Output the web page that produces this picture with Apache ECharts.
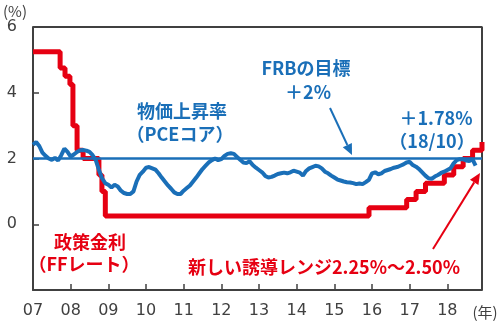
<!DOCTYPE html>
<html><head><meta charset="utf-8">
<script src="https://cdn.jsdelivr.net/npm/echarts@6/dist/echarts.min.js"></script>
<style>html,body{margin:0;padding:0;background:#fff}#c{width:500px;height:326px}</style>
</head><body><div id="c"></div>
<script>
// Core PCE inflation, YoY %, monthly Jan 2007 .. Oct 2018
const pce2007 = [2.42, 2.5, 2.38, 2.18, 2.08, 2.0, 1.96, 2.02, 1.94, 2.1, 2.3, 2.2];
const pce2008 = [2.06, 2.12, 2.2, 2.25, 2.26, 2.24, 2.2, 2.1, 1.95, 1.65, 1.4, 1.25];
const pce2009 = [1.2, 1.12, 1.2, 1.15, 1.02, 0.95, 0.92, 0.92, 1.0, 1.3, 1.5, 1.6];
const pce2010 = [1.72, 1.74, 1.7, 1.66, 1.55, 1.42, 1.3, 1.18, 1.08, 0.97, 0.92, 0.92];
const pce2011 = [1.02, 1.1, 1.18, 1.3, 1.42, 1.55, 1.68, 1.78, 1.88, 1.95, 2.0, 1.95];
const pce2012 = [1.98, 2.08, 2.14, 2.16, 2.14, 2.05, 1.96, 1.88, 1.86, 1.92, 1.8, 1.72];
const pce2013 = [1.65, 1.58, 1.47, 1.42, 1.44, 1.48, 1.53, 1.55, 1.57, 1.55, 1.58, 1.63];
const pce2014 = [1.6, 1.57, 1.48, 1.62, 1.7, 1.74, 1.78, 1.76, 1.7, 1.6, 1.55, 1.48];
const pce2015 = [1.42, 1.36, 1.33, 1.3, 1.28, 1.27, 1.25, 1.22, 1.24, 1.22, 1.28, 1.35];
const pce2016 = [1.55, 1.58, 1.52, 1.55, 1.62, 1.65, 1.68, 1.72, 1.74, 1.78, 1.82, 1.88];
const pce2017 = [1.9, 1.8, 1.75, 1.68, 1.58, 1.48, 1.4, 1.38, 1.45, 1.5, 1.56, 1.6];
const pce2018 = [1.65, 1.7, 1.85, 1.95, 1.98, 1.98, 1.94, 1.92, 1.98, 1.78];
const pceStartYear = 2007;

// Fed funds target (upper bound), change dates (year fraction) and levels
const ffDates  = [2007.0, 2007.72, 2007.85, 2007.98, 2008.06, 2008.17, 2008.33, 2008.75, 2008.83, 2008.92, 2015.92, 2016.92, 2017.17, 2017.42, 2017.92, 2018.17, 2018.42, 2018.67, 2018.92];
const ffValues = [5.25, 4.75, 4.5, 4.25, 3.0, 2.25, 2.0, 1.5, 1.0, 0.25, 0.5, 0.75, 1.0, 1.25, 1.5, 1.75, 2.0, 2.25, 2.5];

// FRB target
const targetValue = 2;

const xMin = 2007, xMax = 2018.92;
const yTicks = [-2, 0, 2, 4, 6];
const yMin = yTicks[0], yMax = yTicks[yTicks.length - 1];

const pceAll = [].concat(pce2007, pce2008, pce2009, pce2010, pce2011, pce2012, pce2013, pce2014, pce2015, pce2016, pce2017, pce2018);
const pceData = pceAll.map((v, i) => [pceStartYear + i / 12, v]);
const ffData = ffDates.map((d, i) => [d, ffValues[i]]);
const targetData = [[xMin, targetValue], [xMax, targetValue]];
const frameData = [[xMin, yMax], [xMax, yMax], [xMax, yMin]];

const BLUE = '#1a6fb8';
const RED = '#e60012';
const TXT = '#404040';
const jp = '"Noto Sans CJK JP", "Noto Sans", sans-serif';
const num = '"DejaVu Sans", Verdana, sans-serif';

function arrow(x1, y1, x2, y2, color, w, hl, hw) {
  const dx = x2 - x1, dy = y2 - y1, L = Math.hypot(dx, dy);
  const ux = dx / L, uy = dy / L, px = -uy, py = ux;
  const bx = x2 - ux * hl, by = y2 - uy * hl;
  return [
    { type: 'line', z: 100, shape: { x1, y1, x2: bx, y2: by }, style: { stroke: color, lineWidth: w } },
    { type: 'polygon', z: 100, shape: { points: [[x2, y2], [bx + px * hw, by + py * hw], [bx - px * hw, by - py * hw]] }, style: { fill: color } }
  ];
}

const chart = echarts.init(document.getElementById('c'), null, { renderer: 'canvas' });
const t = (text, x, y, color, size) => ({ type: 'text', z: 100, style: { text, x, y, fill: color, font: 'bold ' + size + 'px ' + jp, textAlign: 'center', textVerticalAlign: 'middle' } });

chart.setOption({
  animation: false,
  grid: { left: 33, right: 18, top: 27, bottom: 36 },
  xAxis: {
    type: 'value', min: xMin, max: xMax, interval: 1, position: 'bottom',
    axisLine: { show: true, onZero: false, lineStyle: { color: TXT, width: 2 } },
    axisTick: { show: true, inside: true, length: 6, lineStyle: { color: TXT, width: 1.5 } },
    axisLabel: { color: TXT, fontSize: 16, fontFamily: num, margin: 13, showMaxLabel: false,
      formatter: v => String(Math.round(v) % 100).padStart(2, '0') },
    splitLine: { show: false }
  },
  yAxis: {
    type: 'value', min: yMin, max: yMax, interval: 2, position: 'left',
    axisLine: { show: true, onZero: false, lineStyle: { color: TXT, width: 2 } },
    axisTick: { show: true, inside: true, length: 6, lineStyle: { color: TXT, width: 1.5 } },
    axisLabel: { color: TXT, fontSize: 16, fontFamily: num, margin: 16, formatter: v => v === yMin ? '' : String(v) },
    splitLine: { show: false }
  },
  series: [
    { type: 'line', data: frameData, symbol: 'none', clip: false, silent: true, lineStyle: { color: TXT, width: 2 }, z: 1 },
    { type: 'line', data: ffData, step: 'end', symbol: 'none', lineStyle: { color: RED, width: 5 }, z: 2 },
    { type: 'line', data: targetData, symbol: 'none', lineStyle: { color: BLUE, width: 2.5 }, z: 3 },
    { type: 'line', data: pceData, symbol: 'none', lineStyle: { color: BLUE, width: 4 }, z: 4 }
  ],
  graphic: [
    { type: 'text', style: { text: '(%)', x: 3, y: 11, fill: TXT, font: '15px ' + jp, textVerticalAlign: 'middle' } },
    { type: 'text', style: { text: '(年)', x: 485, y: 312, fill: TXT, font: '15px ' + jp, textAlign: 'center', textVerticalAlign: 'middle' } },
    t('物価上昇率', 182, 111, BLUE, 18),
    t('（PCEコア）', 180, 134, BLUE, 18),
    t('FRBの目標', 306, 68, BLUE, 18),
    t('＋2%', 308, 92, BLUE, 18),
    t('＋1.78%', 436, 118, BLUE, 18),
    t('（18/10）', 432, 141, BLUE, 18),
    t('政策金利', 90, 242, RED, 18),
    t('（FFレート）', 84, 264, RED, 18),
    t('新しい誘導レンジ2.25%～2.50%', 324, 267, RED, 18),
    ...arrow(330, 108, 352, 155, BLUE, 2, 11, 5),
    ...arrow(433, 249, 480, 173, RED, 2, 11, 5)
  ]
});
</script></body></html>
